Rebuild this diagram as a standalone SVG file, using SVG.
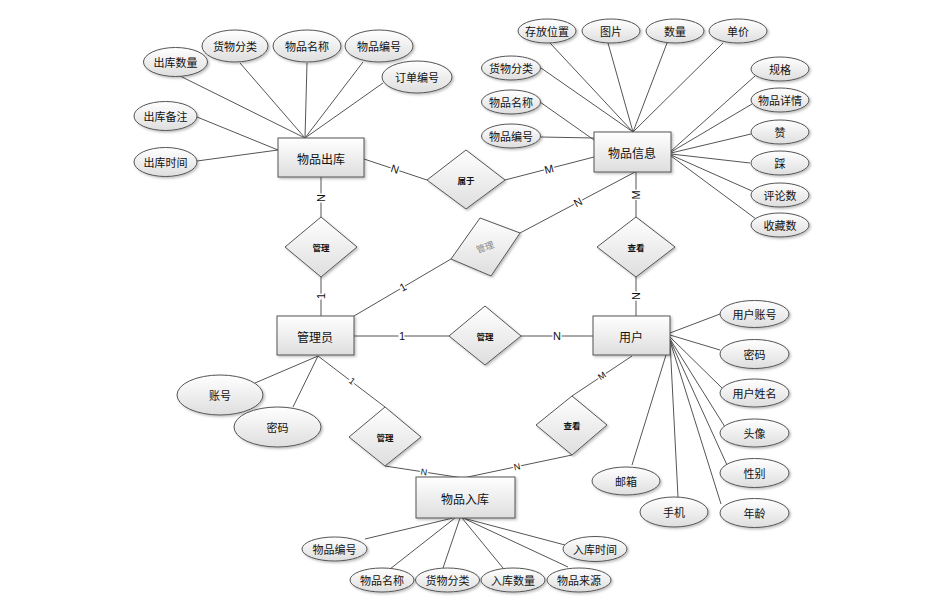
<svg xmlns="http://www.w3.org/2000/svg" width="940" height="610" viewBox="0 0 940 610">
<defs>
<linearGradient id="g" x1="0" y1="0" x2="0" y2="1">
<stop offset="0" stop-color="#ffffff"/>
<stop offset="1" stop-color="#dedede"/>
</linearGradient>
<filter id="sh" x="-20%" y="-20%" width="140%" height="150%">
<feDropShadow dx="1.5" dy="1.5" stdDeviation="1" flood-color="#000" flood-opacity="0.25"/>
</filter>
<style>
.ent rect{fill:url(#g);stroke:#555;stroke-width:1;filter:url(#sh)}
.rel polygon{fill:url(#g);stroke:#555;stroke-width:1;filter:url(#sh)}
.att ellipse{fill:url(#g);stroke:#555;stroke-width:1;filter:url(#sh)}
text{font-family:"Noto Sans CJK SC","Liberation Sans",sans-serif;fill:#111;text-anchor:middle;dominant-baseline:central}
.et{font-size:12px}
.at{font-size:11px}
.rt{font-size:8.5px;font-weight:bold}
.lines line{stroke:#555;stroke-width:1}
.card{font-family:"Liberation Sans",sans-serif;font-size:11px;stroke:#fff;stroke-width:3;paint-order:stroke;fill:#111}
.cs{font-size:9px}
</style>
</defs>
<rect width="940" height="610" fill="#fff"/>
<g id="connectors" class="lines">
<!-- 物品出库 attributes -->
<line x1="178" y1="75" x2="305" y2="138"/>
<line x1="240" y1="63" x2="305" y2="138"/>
<line x1="307" y1="63" x2="305" y2="138"/>
<line x1="363" y1="62" x2="305" y2="138"/>
<line x1="383" y1="83" x2="305" y2="138"/>
<line x1="197" y1="117" x2="278" y2="150"/>
<line x1="197" y1="161" x2="278" y2="150"/>
<!-- 物品信息 attributes -->
<line x1="550" y1="43" x2="633" y2="132"/>
<line x1="608" y1="43" x2="633" y2="132"/>
<line x1="667" y1="43" x2="633" y2="132"/>
<line x1="723" y1="43" x2="633" y2="132"/>
<line x1="541" y1="68" x2="633" y2="132"/>
<line x1="540" y1="102" x2="594" y2="140"/>
<line x1="541" y1="137" x2="594" y2="138"/>
<line x1="755" y1="76" x2="671" y2="151"/>
<line x1="752" y1="104" x2="671" y2="152"/>
<line x1="751" y1="134" x2="671" y2="153"/>
<line x1="750" y1="163" x2="671" y2="154"/>
<line x1="752" y1="191" x2="671" y2="155"/>
<line x1="756" y1="219" x2="671" y2="156"/>
<!-- 用户 attributes -->
<line x1="670" y1="333" x2="720" y2="314"/>
<line x1="670" y1="335" x2="720" y2="350"/>
<line x1="670" y1="337" x2="722" y2="388"/>
<line x1="670" y1="339" x2="725" y2="427"/>
<line x1="670" y1="340" x2="727" y2="465"/>
<line x1="670" y1="341" x2="721" y2="504"/>
<line x1="670" y1="342" x2="632" y2="465"/>
<line x1="670" y1="342" x2="678" y2="497"/>
<!-- 管理员 attributes -->
<line x1="318" y1="356" x2="255" y2="383"/>
<line x1="318" y1="356" x2="293" y2="407"/>
<!-- 物品入库 attributes -->
<line x1="453" y1="518" x2="365" y2="539"/>
<line x1="455" y1="518" x2="390" y2="569"/>
<line x1="460" y1="518" x2="443" y2="568"/>
<line x1="462" y1="518" x2="503" y2="568"/>
<line x1="463" y1="518" x2="568" y2="567"/>
<line x1="463" y1="518" x2="565" y2="545"/>
<!-- relationships -->
<line x1="364" y1="159" x2="427" y2="180"/>
<line x1="505" y1="180" x2="594" y2="157"/>
<line x1="321" y1="177" x2="321" y2="217"/>
<line x1="321" y1="277" x2="321" y2="316"/>
<line x1="354" y1="316" x2="451" y2="259"/>
<line x1="520" y1="233" x2="635" y2="172"/>
<line x1="636" y1="172" x2="636" y2="217"/>
<line x1="636" y1="277" x2="636" y2="316"/>
<line x1="354" y1="336" x2="449" y2="336"/>
<line x1="521" y1="336" x2="593" y2="336"/>
<line x1="318" y1="356" x2="385" y2="407"/>
<line x1="385" y1="466" x2="463" y2="478"/>
<line x1="463" y1="478" x2="572" y2="455"/>
<line x1="572" y1="396" x2="632" y2="356"/>
<!-- cardinality labels -->
<text class="card" x="395" y="169" transform="rotate(18 395 169)">N</text>
<text class="card" x="549" y="169" transform="rotate(-14 549 169)">M</text>
<text class="card" x="321" y="198" transform="rotate(-90 321 198)">N</text>
<text class="card" x="321" y="296" transform="rotate(-90 321 296)">1</text>
<text class="card" x="403" y="287" transform="rotate(-30 403 287)">1</text>
<text class="card" x="578" y="202" transform="rotate(-28 578 202)">N</text>
<text class="card" x="636" y="195" transform="rotate(-90 636 195)">M</text>
<text class="card" x="636" y="296" transform="rotate(-90 636 296)">N</text>
<text class="card" x="402" y="336">1</text>
<text class="card" x="557" y="336">N</text>
<text class="card cs" x="352" y="381" transform="rotate(37 352 381)">1</text>
<text class="card cs" x="424" y="472" transform="rotate(9 424 472)">N</text>
<text class="card cs" x="517" y="467" transform="rotate(-12 517 467)">N</text>
<text class="card cs" x="602" y="376" transform="rotate(-34 602 376)">M</text>
</g>
<!-- entities -->
<g id="e-out" class="ent"><rect x="278" y="138" width="86" height="39"/><text class="et" x="321" y="158">物品出库</text></g>
<g id="e-info" class="ent"><rect x="594" y="132" width="77" height="40"/><text class="et" x="632" y="152">物品信息</text></g>
<g id="e-admin" class="ent"><rect x="277" y="316" width="77" height="39"/><text class="et" x="315" y="336">管理员</text></g>
<g id="e-user" class="ent"><rect x="593" y="316" width="77" height="39"/><text class="et" x="631" y="336">用户</text></g>
<g id="e-in" class="ent"><rect x="416" y="477" width="99" height="41"/><text class="et" x="465" y="498">物品入库</text></g>
<!-- relationships -->
<g id="r-belong" class="rel"><polygon points="427,180 466,150 505,180 466,209"/><text class="rt" x="466" y="180">属于</text></g>
<g id="r-manage1" class="rel"><polygon points="285,247 321,217 357,247 321,277"/><text class="rt" x="321" y="247">管理</text></g>
<g id="r-manage2" class="rel"><polygon points="451,259 480,218 520,233 491,276"/><text x="485" y="247" transform="rotate(-20 485 247)" style="font-size:9px;fill:#888">管理</text></g>
<g id="r-view1" class="rel"><polygon points="597,247 636,217 675,247 636,277"/><text class="rt" x="636" y="247">查看</text></g>
<g id="r-manage3" class="rel"><polygon points="449,336 485,306 521,336 485,365"/><text class="rt" x="485" y="336">管理</text></g>
<g id="r-manage4" class="rel"><polygon points="349,437 385,407 421,437 385,466"/><text class="rt" x="385" y="437">管理</text></g>
<g id="r-view2" class="rel"><polygon points="536,425 572,396 607,425 572,455"/><text class="rt" x="572" y="425">查看</text></g>
<!-- attributes of 物品出库 -->
<g id="a-out-qty" class="att"><ellipse cx="175.5" cy="62" rx="32" ry="14.5"/><text class="at" x="175.5" y="62">出库数量</text></g>
<g id="a-out-cat" class="att"><ellipse cx="235" cy="46" rx="33" ry="16"/><text class="at" x="235" y="46">货物分类</text></g>
<g id="a-out-name" class="att"><ellipse cx="307" cy="46" rx="34" ry="16"/><text class="at" x="307" y="46">物品名称</text></g>
<g id="a-out-no" class="att"><ellipse cx="379" cy="46" rx="34" ry="16"/><text class="at" x="379" y="46">物品编号</text></g>
<g id="a-out-order" class="att"><ellipse cx="417" cy="77" rx="35" ry="16"/><text class="at" x="417" y="77">订单编号</text></g>
<g id="a-out-note" class="att"><ellipse cx="165.5" cy="116" rx="31.5" ry="14.5"/><text class="at" x="165.5" y="116">出库备注</text></g>
<g id="a-out-time" class="att"><ellipse cx="165.5" cy="162" rx="31.5" ry="14.5"/><text class="at" x="165.5" y="162">出库时间</text></g>
<!-- attributes of 物品信息 -->
<g id="a-info-loc" class="att"><ellipse cx="547" cy="31" rx="29" ry="12"/><text class="at" x="547" y="31">存放位置</text></g>
<g id="a-info-pic" class="att"><ellipse cx="611" cy="31" rx="29" ry="12"/><text class="at" x="611" y="31">图片</text></g>
<g id="a-info-qty" class="att"><ellipse cx="675" cy="31" rx="29" ry="12"/><text class="at" x="675" y="31">数量</text></g>
<g id="a-info-price" class="att"><ellipse cx="738" cy="31" rx="29" ry="12"/><text class="at" x="738" y="31">单价</text></g>
<g id="a-info-cat" class="att"><ellipse cx="511" cy="68" rx="29.5" ry="12"/><text class="at" x="511" y="68">货物分类</text></g>
<g id="a-info-name" class="att"><ellipse cx="511" cy="102" rx="29.5" ry="12"/><text class="at" x="511" y="102">物品名称</text></g>
<g id="a-info-no" class="att"><ellipse cx="511" cy="136" rx="29.5" ry="12"/><text class="at" x="511" y="136">物品编号</text></g>
<g id="a-info-spec" class="att"><ellipse cx="780" cy="69" rx="29" ry="12"/><text class="at" x="780" y="69">规格</text></g>
<g id="a-info-detail" class="att"><ellipse cx="780" cy="100" rx="29" ry="12"/><text class="at" x="780" y="100">物品详情</text></g>
<g id="a-info-like" class="att"><ellipse cx="780" cy="132" rx="29" ry="12"/><text class="at" x="780" y="132">赞</text></g>
<g id="a-info-dislike" class="att"><ellipse cx="780" cy="163" rx="29" ry="12"/><text class="at" x="780" y="163">踩</text></g>
<g id="a-info-comments" class="att"><ellipse cx="780" cy="195" rx="29" ry="12"/><text class="at" x="780" y="195">评论数</text></g>
<g id="a-info-fav" class="att"><ellipse cx="780" cy="225" rx="29" ry="12"/><text class="at" x="780" y="225">收藏数</text></g>
<!-- attributes of 管理员 -->
<g id="a-admin-acct" class="att"><ellipse cx="220" cy="395" rx="43" ry="20"/><text class="at" x="220" y="395">账号</text></g>
<g id="a-admin-pwd" class="att"><ellipse cx="277.5" cy="427" rx="43.5" ry="20"/><text class="at" x="277.5" y="427">密码</text></g>
<!-- attributes of 用户 -->
<g id="a-user-acct" class="att"><ellipse cx="754.5" cy="314" rx="34.5" ry="13.5"/><text class="at" x="754.5" y="314">用户账号</text></g>
<g id="a-user-pwd" class="att"><ellipse cx="754.5" cy="354" rx="34.5" ry="14.5"/><text class="at" x="754.5" y="354">密码</text></g>
<g id="a-user-name" class="att"><ellipse cx="754.5" cy="393" rx="34.5" ry="14"/><text class="at" x="754.5" y="393">用户姓名</text></g>
<g id="a-user-avatar" class="att"><ellipse cx="754.5" cy="433" rx="34.5" ry="14"/><text class="at" x="754.5" y="433">头像</text></g>
<g id="a-user-sex" class="att"><ellipse cx="754.5" cy="473" rx="34.5" ry="14.5"/><text class="at" x="754.5" y="473">性别</text></g>
<g id="a-user-age" class="att"><ellipse cx="754.5" cy="513" rx="34.5" ry="14.5"/><text class="at" x="754.5" y="513">年龄</text></g>
<g id="a-user-mail" class="att"><ellipse cx="626" cy="481" rx="34" ry="14"/><text class="at" x="626" y="481">邮箱</text></g>
<g id="a-user-phone" class="att"><ellipse cx="674" cy="512" rx="34" ry="15"/><text class="at" x="674" y="512">手机</text></g>
<!-- attributes of 物品入库 -->
<g id="a-in-no" class="att"><ellipse cx="334.5" cy="549" rx="32.5" ry="12"/><text class="at" x="334.5" y="549">物品编号</text></g>
<g id="a-in-name" class="att"><ellipse cx="382" cy="580" rx="32" ry="12"/><text class="at" x="382" y="580">物品名称</text></g>
<g id="a-in-cat" class="att"><ellipse cx="447.5" cy="580" rx="32" ry="12"/><text class="at" x="447.5" y="580">货物分类</text></g>
<g id="a-in-qty" class="att"><ellipse cx="513" cy="580" rx="32" ry="12"/><text class="at" x="513" y="580">入库数量</text></g>
<g id="a-in-src" class="att"><ellipse cx="579" cy="580" rx="32" ry="12"/><text class="at" x="579" y="580">物品来源</text></g>
<g id="a-in-time" class="att"><ellipse cx="595" cy="549" rx="32" ry="12.5"/><text class="at" x="595" y="549">入库时间</text></g>
</svg>
